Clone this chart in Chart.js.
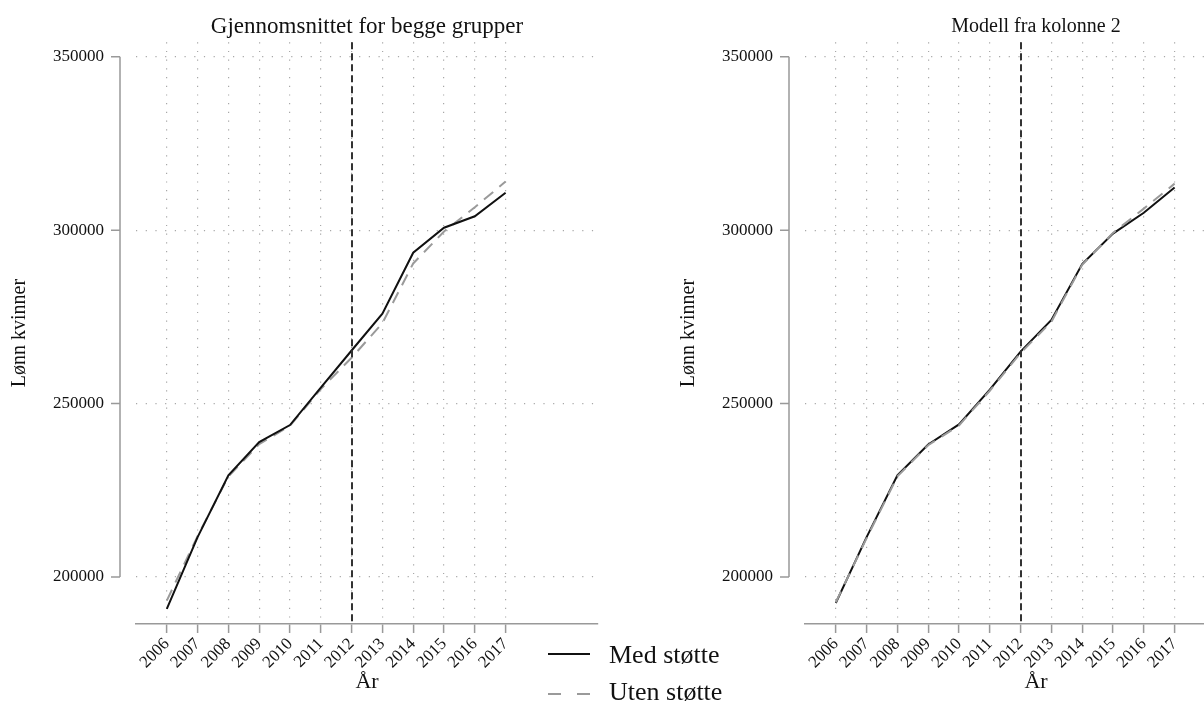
<!DOCTYPE html>
<html>
<head>
<meta charset="utf-8">
<title>Lønn kvinner 2006–2017</title>
<script src="https://cdn.jsdelivr.net/npm/chart.js@4.4.1/dist/chart.umd.min.js"></script>
<style>
  html, body { margin: 0; padding: 0; background: #fff; overflow: hidden; }
  #wrap { position: relative; width: 1204px; height: 711px; overflow: hidden; background: #fff; }
  #wrap canvas { position: absolute; top: 0; }
  #cLeft { left: 0; }
  #cRight { left: 669px; }
  .key { position: absolute; height: 0; }
  .key.solid { border-top: 2.5px solid #111; }
  .key.dash { border-top: 2.5px solid #9a9a9a; }
  .keyText { position: absolute; font-family: "Liberation Serif", "Times New Roman", serif;
             font-size: 26px; line-height: 30px; color: #111; white-space: nowrap; }
</style>
</head>
<body>
<div id="wrap">
  <canvas id="cLeft" width="669" height="711"></canvas>
  <canvas id="cRight" width="669" height="711"></canvas>

  <div class="key solid" style="left:548px; top:653px; width:42px;"></div>
  <div class="keyText" style="left:609px; top:640px;">Med støtte</div>
  <div class="key dash" style="left:548px; top:693px; width:13px;"></div>
  <div class="key dash" style="left:577px; top:693px; width:13px;"></div>
  <div class="keyText" style="left:609px; top:677px;">Uten støtte</div>
</div>

<script>
// Years on the x axis
const years = [2006, 2007, 2008, 2009, 2010, 2011, 2012, 2013, 2014, 2015, 2016, 2017];

// Average for both groups
const medStotteSnitt  = [190800, 211500, 229300, 238900, 243800, 254600, 265300, 275900, 293500, 300700, 304000, 310800];
const utenStotteSnitt = [193200, 211800, 229000, 238300, 243600, 254200, 263200, 273200, 290400, 299600, 306600, 314000];

// Model from column 2
const medStotteModell  = [192500, 211500, 229300, 238200, 244000, 254000, 265000, 274100, 290200, 299000, 305000, 312300];
const utenStotteModell = [192700, 211200, 229000, 238000, 243700, 253700, 264600, 273600, 290000, 299200, 306200, 313400];

// Value axis ticks and the year marked by the vertical line
const yTicks = [200000, 250000, 300000, 350000];
const reformYear = 2012;

const SERIF = '"Liberation Serif", "Times New Roman", serif';
const TEXT = '#111';
const AXIS = '#999';
const GRID = '#a8a8a8';

// Stata-like offset y axis (spanning only the labelled range) and the dashed reform line
const extrasPlugin = {
  id: 'extras',
  beforeDatasetsDraw(chart) {
    const { ctx, chartArea, scales } = chart;
    const y = scales.y;
    const ax = chartArea.left - 16;
    ctx.save();
    ctx.strokeStyle = AXIS;
    ctx.lineWidth = 1.5;
    ctx.beginPath();
    ctx.moveTo(ax, y.getPixelForValue(yTicks[yTicks.length - 1]));
    ctx.lineTo(ax, y.getPixelForValue(yTicks[0]));
    yTicks.forEach(v => {
      const py = y.getPixelForValue(v);
      ctx.moveTo(ax - 9, py);
      ctx.lineTo(ax, py);
    });
    ctx.stroke();
    ctx.restore();
  },
  afterDatasetsDraw(chart) {
    const { ctx, chartArea, scales } = chart;
    const px = Math.round(scales.x.getPixelForValue(reformYear));
    ctx.save();
    ctx.strokeStyle = '#333';
    ctx.lineWidth = 2;
    ctx.setLineDash([7, 4]);
    ctx.beginPath();
    ctx.moveTo(px, chartArea.top);
    ctx.lineTo(px, chartArea.bottom);
    ctx.stroke();
    ctx.restore();
  }
};

function points(values) {
  return years.map((yr, i) => ({ x: yr, y: values[i] }));
}

function makeChart(canvasId, titleText, titleSize, titlePadTop, med, uten, grayOnTop) {
  const lineHeight = titleSize * 1.2;
  return new Chart(document.getElementById(canvasId), {
    type: 'line',
    data: {
      datasets: [
        {
          label: 'Med støtte',
          data: points(med),
          borderColor: '#111',
          borderWidth: 2,
          pointRadius: 0,
          tension: 0,
          fill: false,
          order: grayOnTop ? 2 : 1
        },
        {
          label: 'Uten støtte',
          data: points(uten),
          borderColor: '#9a9a9a',
          borderWidth: 2,
          borderDash: [12, 8],
          pointRadius: 0,
          tension: 0,
          fill: false,
          order: grayOnTop ? 1 : 2
        }
      ]
    },
    options: {
      responsive: false,
      animation: false,
      devicePixelRatio: 1,
      events: [],
      layout: { padding: { left: 0, right: 71, top: 0, bottom: 0 } },
      plugins: {
        legend: { display: false },
        tooltip: { enabled: false },
        title: {
          display: true,
          text: titleText,
          fullSize: false,
          color: TEXT,
          font: { family: SERIF, size: titleSize, weight: 'normal', lineHeight: 1.2 },
          padding: { top: titlePadTop, bottom: 42 - titlePadTop - lineHeight }
        }
      },
      scales: {
        x: {
          type: 'linear',
          min: 2005,
          max: 2020,
          afterBuildTicks: s => { s.ticks = years.map(v => ({ value: v })); },
          afterFit: s => { s.height = 87; },
          ticks: {
            autoSkip: false,
            minRotation: 45,
            maxRotation: 45,
            padding: 1,
            color: TEXT,
            font: { family: SERIF, size: 17 },
            callback: v => String(v)
          },
          grid: {
            color: GRID,
            lineWidth: 1.2,
            drawTicks: true,
            tickLength: 9,
            tickColor: AXIS,
            tickWidth: 1.5
          },
          border: { display: true, color: AXIS, width: 1.5, dash: [1.2, 7.5] },
          title: {
            display: true,
            text: 'År',
            color: TEXT,
            font: { family: SERIF, size: 22, lineHeight: 1.2 },
            padding: { top: 0, bottom: 16 }
          }
        },
        y: {
          type: 'linear',
          min: 186455,
          max: 354178,
          afterBuildTicks: s => { s.ticks = yTicks.map(v => ({ value: v })); },
          afterFit: s => { s.width = 136; },
          ticks: {
            padding: 32,
            color: TEXT,
            font: { family: SERIF, size: 17 },
            callback: v => String(v)
          },
          grid: { color: GRID, lineWidth: 1.2, drawTicks: false },
          border: { display: false, dash: [1.2, 8.5] },
          title: {
            display: true,
            text: 'Lønn kvinner',
            color: TEXT,
            font: { family: SERIF, size: 20, lineHeight: 1.2 },
            padding: { top: 8, bottom: 0 }
          }
        }
      }
    },
    plugins: [extrasPlugin]
  });
}

makeChart('cLeft', 'Gjennomsnittet for begge grupper', 23, 13, medStotteSnitt, utenStotteSnitt, false);
makeChart('cRight', 'Modell fra kolonne 2', 20, 15, medStotteModell, utenStotteModell, true);
</script>
</body>
</html>
